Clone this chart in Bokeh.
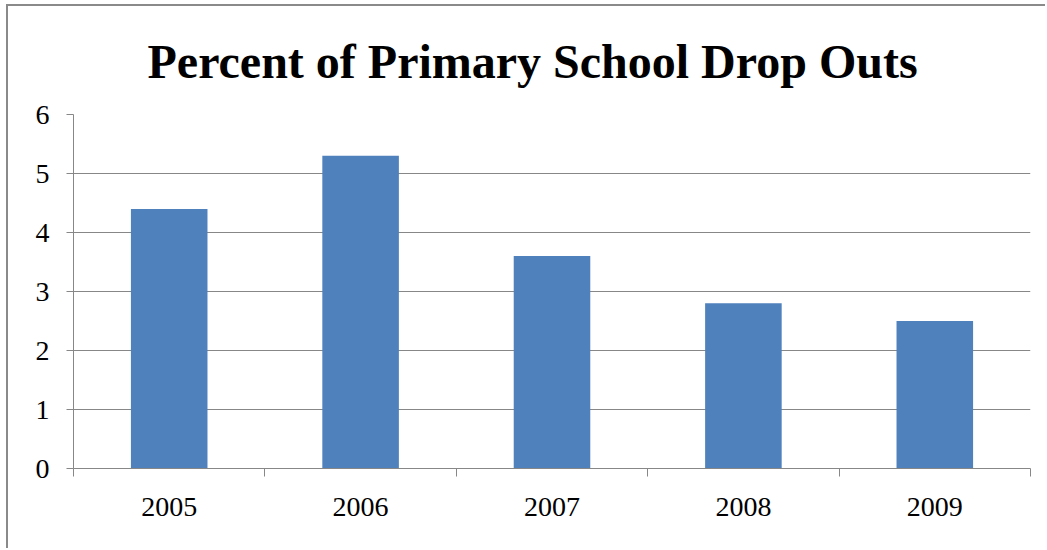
from bokeh.plotting import figure
from bokeh.models import Range1d, FixedTicker, ColumnDataSource
from bokeh.embed import file_html
from bokeh.resources import INLINE

title_text = "Percent of Primary School Drop Outs"
years = ["2005", "2006", "2007", "2008", "2009"]
dropout_pct = [4.4, 5.3, 3.6, 2.8, 2.5]
y_ticks = [0, 1, 2, 3, 4, 5, 6]

xpos = [i + 0.5 for i in range(len(years))]
src = ColumnDataSource(dict(x=xpos, top=dropout_pct, year=years))

GRAY = "#878787"
SERIF = "Liberation Serif"

p = figure(width=1039, height=544, output_backend="svg", toolbar_location=None,
           x_range=Range1d(0, len(years)), y_range=Range1d(0, y_ticks[-1]),
           title=title_text,
           min_border_left=65, min_border_right=17, min_border_top=108, min_border_bottom=82)
p.styles = {"margin-left": "6px", "margin-top": "4px",
            "border-left": "2px solid #8a8a8a", "border-top": "2px solid #8a8a8a"}

p.vbar(x="x", top="top", width=0.4, bottom=0, source=src,
       fill_color="#4F81BD", line_color=None)

p.title.text_font = SERIF
p.title.text_font_style = "bold"
p.title.text_font_size = "48px"
p.title.text_color = "#000000"
p.title.align = "left"
p.title.offset = 74
p.title.standoff = 53

p.outline_line_color = None
p.background_fill_color = "white"
p.border_fill_color = "white"

# x axis
xa = p.xaxis[0]
xa.ticker = FixedTicker(ticks=xpos, minor_ticks=list(range(len(years) + 1)))
xa.major_label_overrides = {x: y for x, y in zip(xpos, years)}
xa.major_tick_out = 0
xa.major_tick_in = 0
xa.minor_tick_out = 8
xa.minor_tick_in = 0
xa.minor_tick_line_color = GRAY
xa.axis_line_color = GRAY
xa.major_label_text_font = SERIF
xa.major_label_text_font_size = "28px"
xa.major_label_text_color = "#000000"
xa.major_label_standoff = 21
p.xgrid.grid_line_color = None

# y axis
ya = p.yaxis[0]
ya.ticker = FixedTicker(ticks=y_ticks)
ya.major_tick_out = 7
ya.major_tick_in = 0
ya.minor_tick_line_color = None
ya.major_tick_line_color = GRAY
ya.axis_line_color = GRAY
ya.major_label_text_font = SERIF
ya.major_label_text_font_size = "28px"
ya.major_label_text_color = "#000000"
ya.major_label_standoff = 17
p.ygrid.ticker = FixedTicker(ticks=y_ticks)
p.ygrid.grid_line_color = GRAY

open("out.html", "w").write(file_html(p, INLINE))
